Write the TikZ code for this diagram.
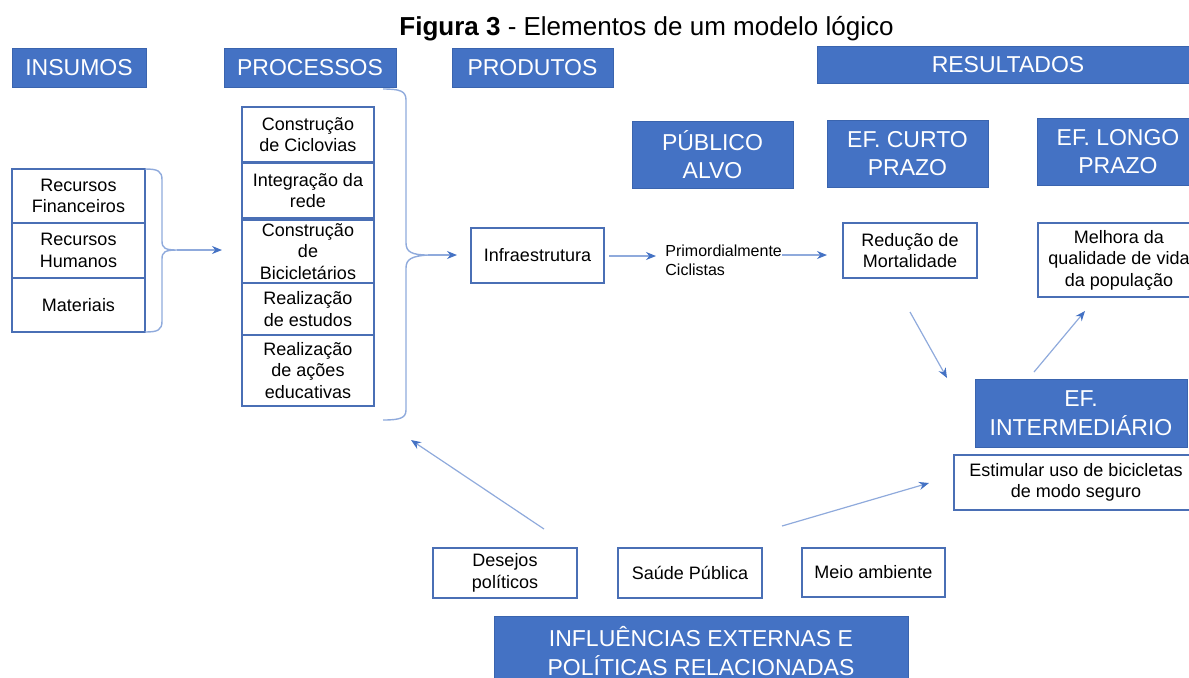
\documentclass[tikz,border=0pt]{standalone}
\usepackage{fontspec}
\setmainfont{Liberation Sans}
\usetikzlibrary{arrows.meta}
\definecolor{hblue}{HTML}{4472C4}
\definecolor{hborder}{HTML}{3A64AE}
\definecolor{lineblue}{HTML}{8FAADC}
\definecolor{boxedge}{HTML}{4A6FB5}
\newcommand{\mybox}[7]{%
  \node[#1, minimum width={0.5pt*(#5-#3)}, minimum height={0.5pt*(#6-#4)}]
    (#2) at ({(#3+#5)/2},{(#4+#6)/2}) {#7};}
\begin{document}
\begin{tikzpicture}[x=0.5pt,y=-0.5pt,
  hbox/.style={fill=hblue, draw=hborder, line width=0.5pt, inner sep=0pt, outer sep=0pt,
    text=white, font=\fontsize{11.5}{14.2}\selectfont, align=center},
  wbox/.style={fill=white, draw=boxedge, line width=0.75pt, inner sep=0pt, outer sep=0pt,
    text=black, font=\fontsize{9}{10.8}\selectfont, align=center},
  conn/.style={draw=lineblue, line width=0.6pt, -{Stealth[length=5pt,width=4pt,color=hblue]}},
  bracestyle/.style={draw=lineblue, line width=0.7pt},
]
\useasboundingbox (0,0) rectangle (1189,677);

% title
\node[font=\fontsize{13}{15}\selectfont, anchor=base, inner sep=0pt] (title) at (646.5,35)
  {\textbf{Figura 3} - Elementos de um modelo lógico};

% headers
\mybox{hbox}{insumos}{12}{48}{146}{87}{INSUMOS}
\mybox{hbox}{processos}{224}{48}{396}{87}{PROCESSOS}
\mybox{hbox}{produtos}{452}{48}{613}{87}{PRODUTOS}
\mybox{hbox}{resultados}{817}{46}{1199}{83}{RESULTADOS}
\mybox{hbox}{publico}{632}{121}{793}{188}{PÚBLICO\\ALVO}
\mybox{hbox}{curto}{827}{120}{988}{187}{EF. CURTO\\PRAZO}
\mybox{hbox}{longo}{1037}{118}{1199}{185}{EF. LONGO\\PRAZO}
\mybox{hbox}{inter}{975}{379}{1187}{447}{EF.\\INTERMEDIÁRIO}
\mybox{hbox}{influ}{494}{616}{908}{686}{INFLUÊNCIAS EXTERNAS E\\POLÍTICAS RELACIONADAS}

% insumos
\mybox{wbox}{rf}{12}{169}{145}{223}{Recursos\\Financeiros}
\mybox{wbox}{rh}{12}{223}{145}{278}{Recursos\\Humanos}
\mybox{wbox}{mat}{12}{278}{145}{332}{Materiais}

% processos
\mybox{wbox}{p1}{242}{107}{374}{162}{Construção\\de Ciclovias}
\mybox{wbox}{p2}{242}{163}{374}{218}{Integração da\\rede}
\mybox{wbox}{p3}{242}{220}{374}{283}{Construção\\de\\Bicicletários}
\mybox{wbox}{p4}{242}{283}{374}{335}{Realização\\de estudos}
\mybox{wbox}{p5}{242}{335}{374}{406}{Realização\\de ações\\educativas}

% produtos / resultados
\mybox{wbox}{infra}{471}{228}{604}{283}{Infraestrutura}
\node[anchor=north west, align=left, inner sep=0pt, font=\fontsize{8}{9.5}\selectfont] (pc) at (665,244)
  {Primordialmente\\Ciclistas};
\mybox{wbox}{red}{843}{223}{977}{278}{Redução de\\Mortalidade}
\mybox{wbox}{melh}{1038}{223}{1200}{297}{Melhora da\\qualidade de vida\\da população}
\mybox{wbox}{estim}{954}{455}{1198}{510}{Estimular uso de bicicletas\\de modo seguro}

% influencias
\mybox{wbox}{des}{433}{548}{577}{598}{Desejos\\políticos}
\mybox{wbox}{saude}{618}{548}{762}{598}{Saúde Pública}
\mybox{wbox}{meio}{802}{548}{945}{597}{Meio ambiente}

% braces
\draw[bracestyle] (145,169) .. controls (158,169) and (162,171) .. (162,180) -- (162,241)
  .. controls (162,248) and (165,250) .. (177,250)
  .. controls (165,250) and (162,252) .. (162,259) -- (162,321)
  .. controls (162,330) and (158,332) .. (145,332);
\coordinate (b1tip) at (177,250);
\draw[bracestyle] (383,89) .. controls (400,89) and (406,91) .. (406,100) -- (406,243)
  .. controls (406,252) and (412,255) .. (428,255)
  .. controls (412,256) and (406,259) .. (406,268) -- (406,410)
  .. controls (406,418) and (400,420) .. (383,420);
\coordinate (b2tip) at (428,255);

% connector end points
\coordinate (a1) at (222,250);
\coordinate (a3s) at (609,256);
\coordinate (a3e) at (656,256);
\coordinate (a4s) at (782,255);
\coordinate (a4e) at (827,255);
\coordinate (a5s) at (910,312);
\coordinate (a5e) at (947,378);
\coordinate (a6s) at (1034,372);
\coordinate (a6e) at (1085,311);
\coordinate (a7s) at (544,529);
\coordinate (a7e) at (411,440);
\coordinate (a8s) at (782,526);
\coordinate (a8e) at (929,483);

\draw[conn] (b1tip) -- (a1);
\draw[conn, shorten >=7pt] (b2tip) -- (infra.west |- b2tip);
\draw[conn] (a3s) -- (a3e);
\draw[conn] (a4s) -- (a4e);
\draw[conn] (a5s) -- (a5e);
\draw[conn] (a6s) -- (a6e);
\draw[conn] (a7s) -- (a7e);
\draw[conn] (a8s) -- (a8e);
\end{tikzpicture}
\end{document}
